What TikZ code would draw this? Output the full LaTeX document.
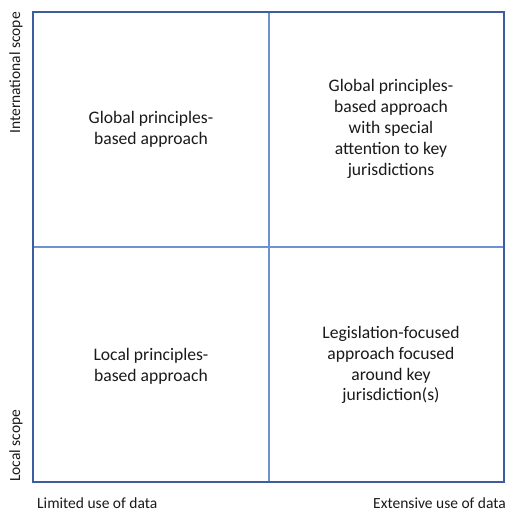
\documentclass[tikz,border=0pt]{standalone}
\usepackage{fontspec}
\setmainfont{Carlito}
\definecolor{outerblue}{HTML}{3D5E9E}
\definecolor{innerblue}{HTML}{6C92D2}
\definecolor{txt}{HTML}{1A1A1A}
\begin{document}
\begin{tikzpicture}[x=1pt,y=1pt,
  cell/.style={align=center,font=\fontsize{17.6}{20.8}\selectfont,text=txt},
  axis/.style={font=\fontsize{15.5}{18}\selectfont,text=txt,inner sep=0pt}]
\useasboundingbox (0,0) rectangle (515,522);
\fill[white] (0,0) rectangle (515,522);
\coordinate (tl) at (33,510);
\coordinate (br) at (504,40);
\coordinate (mt) at (269,510);
\coordinate (mb) at (269,40);
\coordinate (ml) at (33,275);
\coordinate (mr) at (504,275);
\draw[innerblue,line width=1.5pt] (mt) -- (mb);
\draw[innerblue,line width=1.5pt] (ml) -- (mr);
\draw[outerblue,line width=2.4pt] (tl) rectangle (br);
\node[cell] (q1) at (151,393) {Global principles-\\based approach};
\node[cell] (q2) at (391,393) {Global principles-\\based approach\\with special\\attention to key\\jurisdictions};
\node[cell] (q3) at (151,156) {Local principles-\\based approach};
\node[cell] (q4) at (391,157) {Legislation-focused\\approach focused\\around key\\jurisdiction(s)};
\node[axis,anchor=west] (xl) at (37,19) {Limited use of data};
\node[axis,anchor=east] (xr) at (506,19) {Extensive use of data};
\node[axis,rotate=90,anchor=east] (yt) at (16,510) {International scope};
\node[axis,rotate=90,anchor=west] (yb) at (16,40) {Local scope};
\end{tikzpicture}
\end{document}
